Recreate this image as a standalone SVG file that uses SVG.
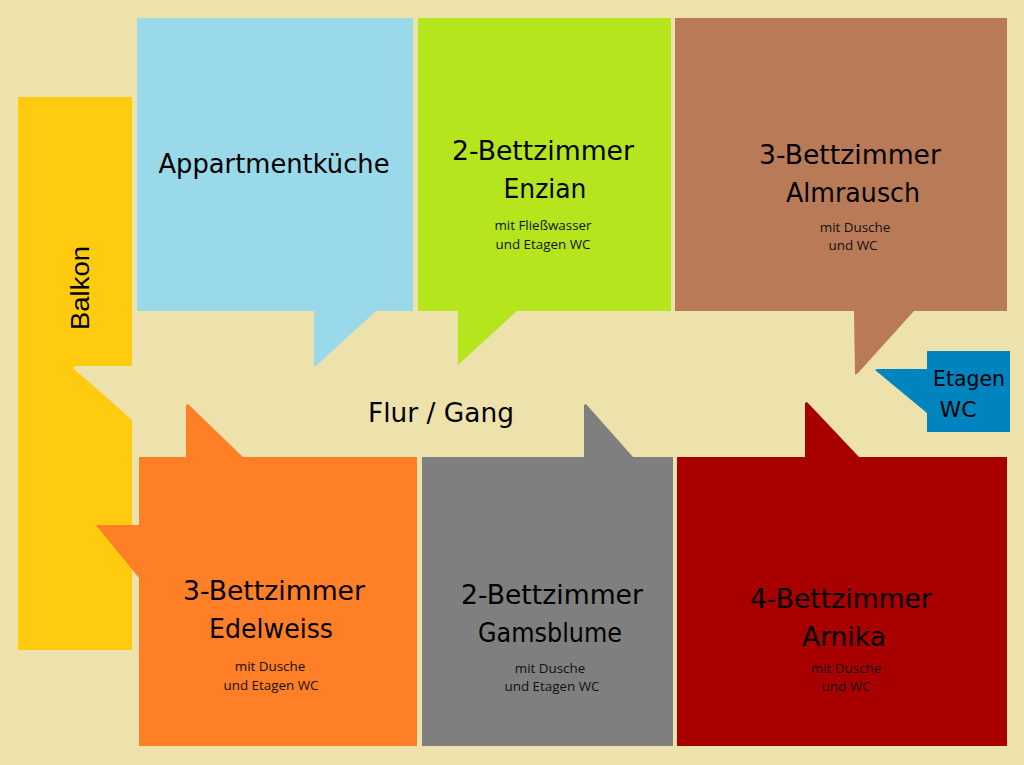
<svg xmlns="http://www.w3.org/2000/svg" width="1024" height="765" viewBox="0 0 1024 765">
<style>
.t{font-family:"Comic Sans MS","DejaVu Sans",sans-serif;font-size:26px;fill:#000;text-anchor:middle}
.s{font-family:"Open Sans","Noto Sans",sans-serif;font-size:13.4px;fill:#111;text-anchor:middle}
</style>
<rect width="1024" height="765" fill="#EEE2AC"/>
<g id="balkon"><polygon fill="#FFCB0F" points="18,97 132,97 132,366 75,366 73,368 132,420 132,650 18,650"/>
<text transform="translate(89,288) rotate(-90)" font-family="Liberation Sans, sans-serif" font-size="26" text-anchor="middle" textLength="84" lengthAdjust="spacingAndGlyphs">Balkon</text></g>
<g id="kueche"><polygon fill="#99D9EA" points="137,18 413,18 413,311 376,311 317,365 314,367 314,311 137,311"/>
<text class="t" x="274" y="173" textLength="231" lengthAdjust="spacingAndGlyphs">Appartmentküche</text></g>
<g id="enzian"><polygon fill="#B5E61D" points="418,18 671,18 671,311 517,311 460,363 458,365 458,311 418,311"/>
<text class="t" x="543" y="160" textLength="182" lengthAdjust="spacingAndGlyphs">2-Bettzimmer</text>
<text class="t" x="545" y="198" textLength="83" lengthAdjust="spacingAndGlyphs">Enzian</text>
<text class="s" x="543" y="230">mit Fließwasser</text><text class="s" x="543" y="249">und Etagen WC</text></g>
<g id="almrausch"><polygon fill="#B97A57" points="675,18 1007,18 1007,311 914,311 858,373 855,375 854,311 675,311"/>
<text class="t" x="850" y="164" textLength="182" lengthAdjust="spacingAndGlyphs">3-Bettzimmer</text>
<text class="t" x="853" y="202" textLength="134" lengthAdjust="spacingAndGlyphs">Almrausch</text>
<text class="s" x="855" y="232">mit Dusche</text><text class="s" x="853" y="250">und WC</text></g>
<g id="etagen-wc"><polygon fill="#0084C0" points="927,351 1010,351 1010,432 927,432 927,413 875,370 877,369 927,369"/>
<text class="t" x="969" y="386" style="font-size:22px" textLength="72" lengthAdjust="spacingAndGlyphs">Etagen</text>
<text class="t" x="958" y="417" style="font-size:22px" textLength="37" lengthAdjust="spacingAndGlyphs">WC</text></g>
<g id="edelweiss"><polygon fill="#FF7F27" points="139,457 186,457 186,405 188,404 243,457 417,457 417,746 139,746 139,578 96,525 139,525"/>
<text class="t" x="274" y="600" textLength="182" lengthAdjust="spacingAndGlyphs">3-Bettzimmer</text>
<text class="t" x="271" y="638" textLength="124" lengthAdjust="spacingAndGlyphs">Edelweiss</text>
<text class="s" x="270" y="671">mit Dusche</text><text class="s" x="271" y="690">und Etagen WC</text></g>
<g id="gamsblume"><polygon fill="#7F7F7F" points="422,457 584,457 584,405 586,404 633,457 673,457 673,746 422,746"/>
<text class="t" x="552" y="604" textLength="182" lengthAdjust="spacingAndGlyphs">2-Bettzimmer</text>
<text class="t" x="550" y="642" textLength="144" lengthAdjust="spacingAndGlyphs">Gamsblume</text>
<text class="s" x="550" y="673">mit Dusche</text><text class="s" x="552" y="691">und Etagen WC</text></g>
<g id="arnika"><polygon fill="#A80000" points="677,457 805,457 805,403 807,402 859,457 1007,457 1007,746 677,746"/>
<text class="t" x="841" y="608" textLength="182" lengthAdjust="spacingAndGlyphs">4-Bettzimmer</text>
<text class="t" x="844" y="646" textLength="84" lengthAdjust="spacingAndGlyphs">Arnika</text>
<text class="s" x="846" y="673">mit Dusche</text><text class="s" x="846" y="691">und WC</text></g>
<g id="flur"><text class="t" x="441" y="422" textLength="146" lengthAdjust="spacingAndGlyphs">Flur / Gang</text></g>
<g id="connectors"></g>
</svg>
